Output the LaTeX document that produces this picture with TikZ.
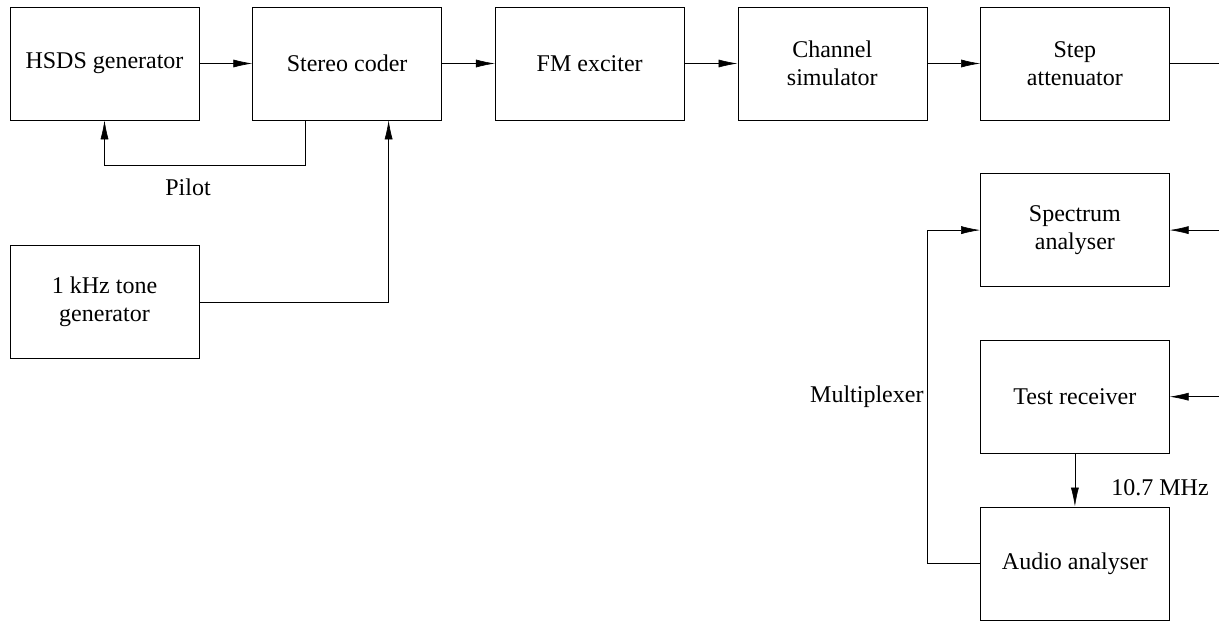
\documentclass[tikz,border=0pt]{standalone}
\usepackage{fontspec}
\setmainfont{Liberation Serif}
\usetikzlibrary{arrows.meta,positioning}

\begin{document}
\begin{tikzpicture}[x=1pt,y=-1pt,node distance=53pt,semithick,
                    >={Latex[length=19pt,width=8pt]},
                    font=\fontsize{24}{28}\selectfont,
                    block/.style={draw,rectangle,align=center,
                                  minimum width=189pt,minimum height=113pt}]

        \useasboundingbox (0,0) rectangle (1219,621);
        \coordinate (rim) at (1219,0);

        \node[block]            (hsds)   at (104.5,63.5)    {HSDS generator};
        \node[block]            (stereo) [right=of hsds]    {Stereo coder};
        \node[block]            (fm)     [right=of stereo]  {FM exciter};
        \node[block]            (chan)   [right=of fm]      {Channel\\simulator};
        \node[block]            (atten)  [right=of chan]    {Step\\attenuator};
        \node[block]            (spec)   [below=of atten]   {Spectrum\\analyser};
        \node[block]            (recv)   [below=of spec]    {Test receiver};
        \node[block]            (audio)  [below=of recv]    {Audio analyser};
        \node[block]            (tone)   [below=125pt of hsds] {1 kHz tone\\generator};

        \path[->] (hsds) edge (stereo)
                  (stereo) edge (fm)
                  (fm) edge (chan)
                  (chan) edge (atten)
                  (recv) edge (audio);

        % pilot tone back to the generator
        \coordinate (pilotout) at ([xshift=-41.5pt]stereo.south);
        \draw[->] (pilotout) -- ++(0,45) -| (hsds.south);
        \node (pilot) at (188,187) {Pilot};

        % audio tone into the coder
        \coordinate (tonein) at ([xshift=41.5pt]stereo.south);
        \draw[->] (tone.east) -| (tonein);

        % to and from the right edge
        \draw (atten.east) -- (atten.east -| rim);
        \draw[->] (spec.east -| rim) -- (spec.east);
        \draw[->] (recv.east -| rim) -- (recv.east);

        \draw[->] (audio.west) -- ++(-53,0) coordinate (mux) |- (spec.west);
        \node (muxlabel) [anchor=east] at (mux |- recv) {Multiplexer};
        \node (iflabel) at (1160,488) {10.7 MHz};

\end{tikzpicture}
\end{document}
